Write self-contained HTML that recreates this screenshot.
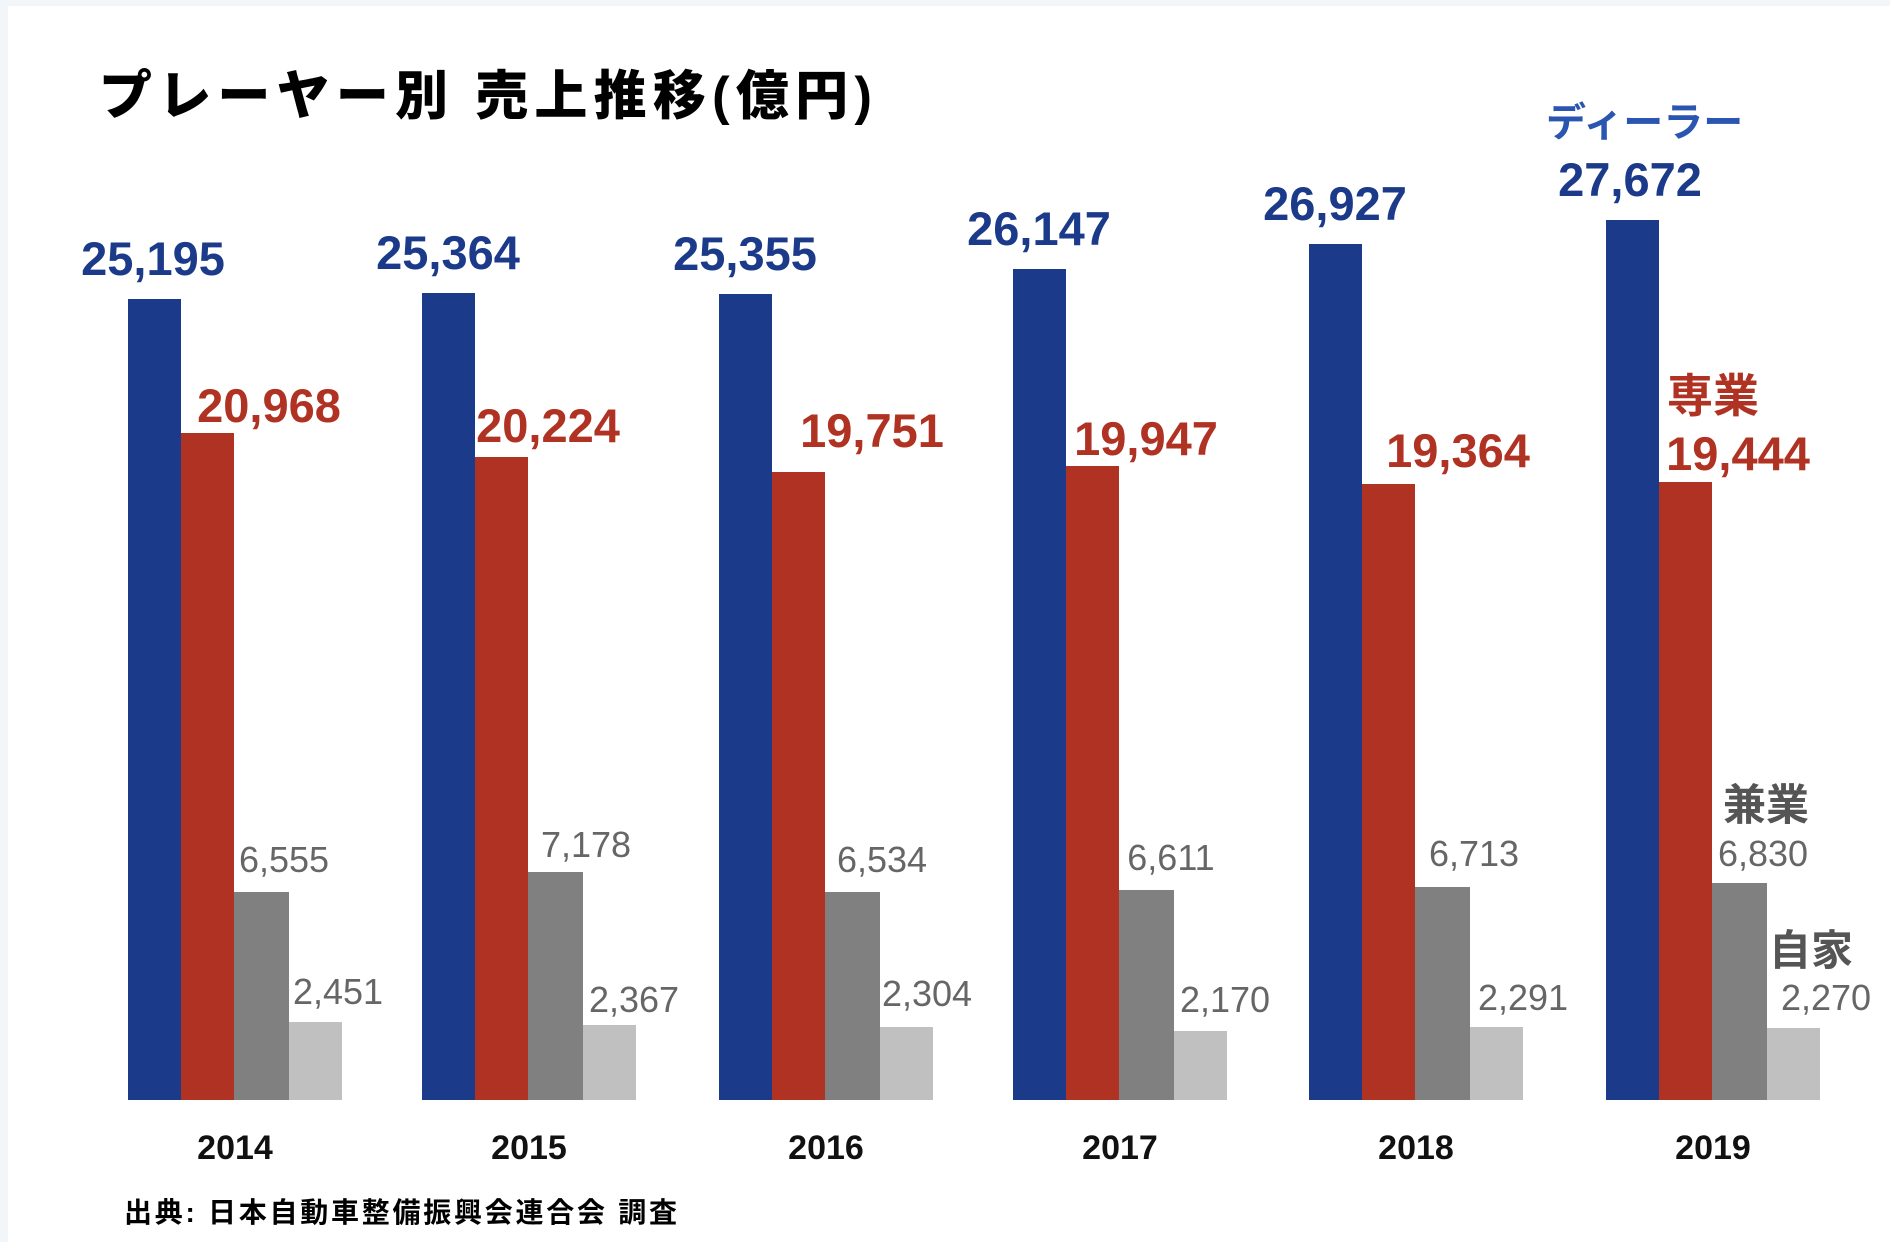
<!DOCTYPE html>
<html><head><meta charset="utf-8"><style>
html,body{margin:0;padding:0;background:#f3f6f8}
svg{display:block}
text{font-family:"Liberation Sans","Noto Sans CJK JP",sans-serif}
.b{fill:#1c3a8a;font-weight:bold;font-size:47px;text-anchor:middle}
.r{fill:#b03222;font-weight:bold;font-size:47px;text-anchor:middle}
.g{fill:#666;font-size:36px;text-anchor:middle}
.y{fill:#111;font-weight:bold;font-size:34px;text-anchor:middle}
</style></head><body>
<svg width="1890" height="1242" viewBox="0 0 1890 1242" xmlns="http://www.w3.org/2000/svg">
<rect x="8" y="6" width="1882" height="1236" fill="#fff"/>
<text x="99" y="114" font-size="53" font-weight="900" fill="#000" font-family="Liberation Sans, Noto Sans CJK JP, sans-serif" textLength="773">プレーヤー別 売上推移(億円)</text>
<text x="1546" y="136" font-size="40" font-weight="bold" fill="#2a55b0">ディーラー</text>
<text x="1667" y="412" font-size="46" font-weight="bold" fill="#b03222">専業</text>
<text x="1723" y="820" font-size="43" font-weight="bold" fill="#555">兼業</text>
<text x="1769" y="965" font-size="42" font-weight="bold" fill="#555">自家</text>
<text x="124" y="1222" font-size="28" font-weight="bold" fill="#000" textLength="553">出典: 日本自動車整備振興会連合会 調査</text>

<!-- 2014 G=128 -->
<rect x="128" y="299" width="53" height="801" fill="#1c3a8a"/>
<rect x="181" y="433" width="53" height="667" fill="#b03222"/>
<rect x="234" y="892" width="55" height="208" fill="#808080"/>
<rect x="289" y="1022" width="53" height="78" fill="#c0c0c0"/>
<text class="b" x="153" y="275">25,195</text>
<text class="r" x="269" y="422">20,968</text>
<text class="g" x="284" y="872">6,555</text>
<text class="g" x="338" y="1004">2,451</text>
<text class="y" x="235" y="1159">2014</text>
<!-- 2015 G=422 -->
<rect x="422" y="293" width="53" height="807" fill="#1c3a8a"/>
<rect x="475" y="457" width="53" height="643" fill="#b03222"/>
<rect x="528" y="872" width="55" height="228" fill="#808080"/>
<rect x="583" y="1025" width="53" height="75" fill="#c0c0c0"/>
<text class="b" x="448" y="269">25,364</text>
<text class="r" x="548" y="442">20,224</text>
<text class="g" x="586" y="857">7,178</text>
<text class="g" x="634" y="1012">2,367</text>
<text class="y" x="529" y="1159">2015</text>
<!-- 2016 G=719 -->
<rect x="719" y="294" width="53" height="806" fill="#1c3a8a"/>
<rect x="772" y="472" width="53" height="628" fill="#b03222"/>
<rect x="825" y="892" width="55" height="208" fill="#808080"/>
<rect x="880" y="1027" width="53" height="73" fill="#c0c0c0"/>
<text class="b" x="745" y="270">25,355</text>
<text class="r" x="872" y="447">19,751</text>
<text class="g" x="882" y="872">6,534</text>
<text class="g" x="927" y="1006">2,304</text>
<text class="y" x="826" y="1159">2016</text>
<!-- 2017 G=1013 -->
<rect x="1013" y="269" width="53" height="831" fill="#1c3a8a"/>
<rect x="1066" y="466" width="53" height="634" fill="#b03222"/>
<rect x="1119" y="890" width="55" height="210" fill="#808080"/>
<rect x="1174" y="1031" width="53" height="69" fill="#c0c0c0"/>
<text class="b" x="1039" y="245">26,147</text>
<text class="r" x="1146" y="455">19,947</text>
<text class="g" x="1171" y="870">6,611</text>
<text class="g" x="1225" y="1012">2,170</text>
<text class="y" x="1120" y="1159">2017</text>
<!-- 2018 G=1309 -->
<rect x="1309" y="244" width="53" height="856" fill="#1c3a8a"/>
<rect x="1362" y="484" width="53" height="616" fill="#b03222"/>
<rect x="1415" y="887" width="55" height="213" fill="#808080"/>
<rect x="1470" y="1027" width="53" height="73" fill="#c0c0c0"/>
<text class="b" x="1335" y="220">26,927</text>
<text class="r" x="1458" y="467">19,364</text>
<text class="g" x="1474" y="866">6,713</text>
<text class="g" x="1523" y="1010">2,291</text>
<text class="y" x="1416" y="1159">2018</text>
<!-- 2019 G=1606 -->
<rect x="1606" y="220" width="53" height="880" fill="#1c3a8a"/>
<rect x="1659" y="482" width="53" height="618" fill="#b03222"/>
<rect x="1712" y="883" width="55" height="217" fill="#808080"/>
<rect x="1767" y="1028" width="53" height="72" fill="#c0c0c0"/>
<text class="b" x="1630" y="196">27,672</text>
<text class="r" x="1738" y="470">19,444</text>
<text class="g" x="1763" y="866">6,830</text>
<text class="g" x="1826" y="1010">2,270</text>
<text class="y" x="1713" y="1159">2019</text>
</svg>
</body></html>
